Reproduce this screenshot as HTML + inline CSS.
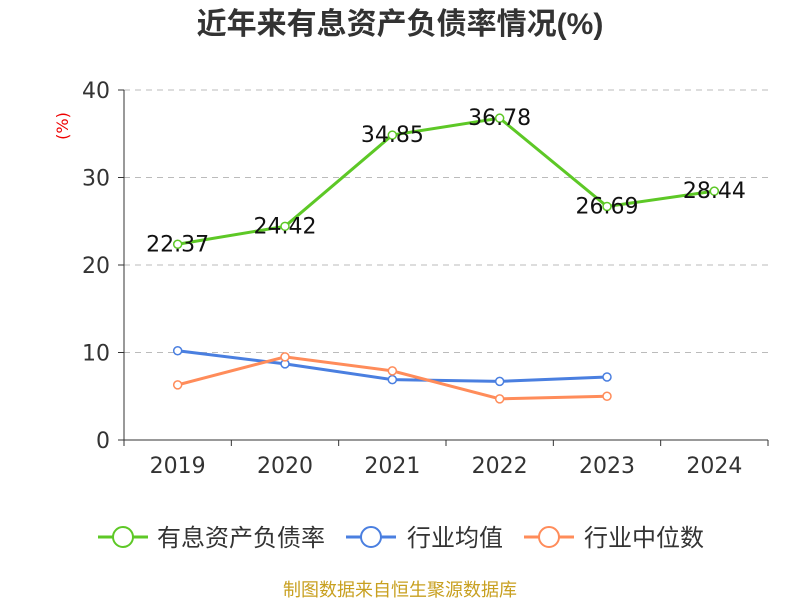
<!DOCTYPE html>
<html><head><meta charset="utf-8"><style>
body{margin:0;background:#fff;font-family:"Liberation Sans","Noto Sans CJK SC",sans-serif}
svg text{font-family:"DejaVu Sans","Noto Sans CJK SC",sans-serif}
</style></head><body>
<svg id="chart" width="800" height="600" xmlns="http://www.w3.org/2000/svg">
<text x="400" y="34" text-anchor="middle" font-size="30" font-weight="bold" fill="#333" style="font-family:'Liberation Sans','Noto Sans CJK SC',sans-serif">近年来有息资产负债率情况(%)</text>
<text transform="translate(68,126) rotate(-90)" text-anchor="middle" font-size="16" fill="#e00">(%)</text>
<g id="grid"></g><g id="axes"></g><g id="series"></g>
<g style="font-family:'Liberation Sans','Noto Sans CJK SC',sans-serif">
<g><line x1="98" y1="537" x2="148" y2="537" stroke="#5dc826" stroke-width="3"/><circle cx="123" cy="537" r="10" fill="#fff" stroke="#5dc826" stroke-width="2"/><text x="157" y="546" font-size="24" fill="#333">有息资产负债率</text></g>
<g><line x1="346" y1="537" x2="396" y2="537" stroke="#4a7fe0" stroke-width="3"/><circle cx="371" cy="537" r="10" fill="#fff" stroke="#4a7fe0" stroke-width="2"/><text x="407" y="546" font-size="24" fill="#333">行业均值</text></g>
<g><line x1="524" y1="537" x2="574" y2="537" stroke="#ff8c5a" stroke-width="3"/><circle cx="549" cy="537" r="10" fill="#fff" stroke="#ff8c5a" stroke-width="2"/><text x="584" y="546" font-size="24" fill="#333">行业中位数</text></g>
</g>
<text x="400" y="596" text-anchor="middle" font-size="18" fill="#c8a020">制图数据来自恒生聚源数据库</text>
</svg>
<script>
const categories=["2019","2020","2021","2022","2023","2024"];
const debtRatio=[22.37,24.42,34.85,36.78,26.69,28.44];
const industryMean=[10.2,8.7,6.9,6.7,7.2];
const industryMedian=[6.3,9.5,7.9,4.7,5.0];
const yTicks=[0,10,20,30,40];
const NS="http://www.w3.org/2000/svg";
const x0=124,x1=768,y0=440,y1=90,yMax=40;
const bw=(x1-x0)/categories.length;
const xs=i=>x0+bw*(i+0.5);
const ys=v=>y0-(v/yMax)*(y0-y1);
function mk(tag,attrs,parent,txt){const e=document.createElementNS(NS,tag);for(const k in attrs)e.setAttribute(k,attrs[k]);if(txt!==undefined)e.textContent=txt;document.getElementById(parent).appendChild(e);return e;}
yTicks.forEach(t=>{
 if(t>0){const g=mk('line',{x1:x0,x2:x1,y1:ys(t),y2:ys(t),stroke:'#bbb','stroke-dasharray':'6,5'},'grid');
 
 }
 const tk=mk('line',{x1:x0-6,x2:x0,y1:ys(t),y2:ys(t),stroke:'#333'},'axes');
 
 
 const l=mk('text',{x:x0-14,y:ys(t)+8,'text-anchor':'end','font-size':22,fill:'#333'},'axes',t);
 
 
});
const ya=mk('line',{x1:x0,x2:x0,y1:y1,y2:y0,stroke:'#333'},'axes');


const xa=mk('line',{x1:x0,x2:x1,y1:y0,y2:y0,stroke:'#333'},'axes');


for(let i=0;i<=categories.length;i++){const t=mk('line',{x1:x0+bw*i,x2:x0+bw*i,y1:y0,y2:y0+6,stroke:'#333'},'axes');
 
 }
categories.forEach((c,i)=>{const l=mk('text',{x:xs(i),y:y0+33,'text-anchor':'middle','font-size':22,fill:'#333'},'axes',c);
 
 });
function series(vals,color,name,labels){
 const p=mk('polyline',{points:vals.map((v,i)=>xs(i)+','+ys(v)).join(' '),fill:'none',stroke:color,'stroke-width':3},'series');
 
 
 vals.forEach((v,i)=>{const c=mk('circle',{cx:xs(i),cy:ys(v),r:4,fill:'#fff',stroke:color,'stroke-width':1.5},'series');
  
  
  if(labels){const t=mk('text',{x:xs(i),y:ys(v)+7,'text-anchor':'middle','font-size':22,fill:'#111'},'series',v.toFixed(2));
  
  }
 });
}
series(industryMean,'#4a7fe0','industry-mean',false);
series(industryMedian,'#ff8c5a','industry-median',false);
series(debtRatio,'#5dc826','debt-ratio',true);
</script>
</body></html>
